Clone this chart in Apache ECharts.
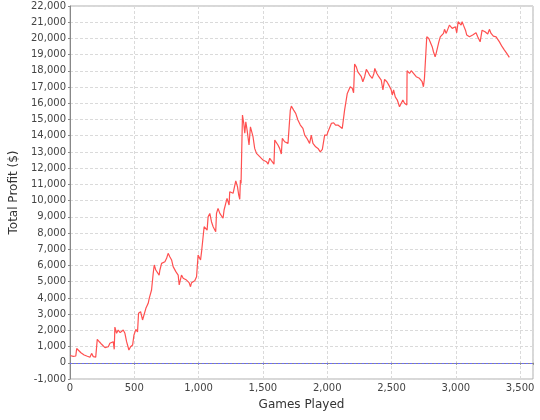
<!DOCTYPE html>
<html>
<head>
<meta charset="utf-8">
<script src="https://cdn.jsdelivr.net/npm/echarts@6/dist/echarts.min.js"></script>
<style>
  html, body { margin: 0; padding: 0; background: #fff; }
  #chart { width: 540px; height: 420px; }
</style>
</head>
<body>
<div id="chart"></div>
<script>
// games played (x) and running profit (y)
const games = [
  0, 25, 45, 52, 65, 85, 110, 135, 155, 168, 181, 200, 212, 230, 246, 272, 298, 310, 336, 344,
  349, 362, 375, 390, 414, 427, 440, 458, 471, 487, 497, 512, 525, 533, 549, 564, 575, 590, 608, 616,
  634, 647, 655, 667, 678, 693, 699, 712, 738, 751, 763, 776, 790, 802, 815, 823, 841, 849, 867, 880,
  906, 926, 937, 945, 970, 984, 990, 996, 1015, 1023, 1035, 1043, 1056, 1066, 1074, 1087, 1100, 1113, 1126, 1133,
  1139, 1151, 1165, 1178, 1190, 1198, 1211, 1221, 1237, 1242, 1255, 1268, 1281, 1289, 1302, 1312, 1320, 1325, 1330, 1338,
  1341, 1351, 1359, 1367, 1377, 1392, 1403, 1411, 1423, 1436, 1450, 1475, 1501, 1527, 1540, 1553, 1566, 1586, 1592, 1605,
  1617, 1630, 1643, 1651, 1669, 1682, 1695, 1708, 1713, 1721, 1739, 1755, 1772, 1791, 1811, 1825, 1842, 1863, 1876, 1889,
  1910, 1928, 1946, 1962, 1975, 1980, 1998, 2006, 2019, 2032, 2050, 2065, 2083, 2096, 2117, 2130, 2135, 2148, 2156, 2169,
  2179, 2195, 2205, 2213, 2226, 2238, 2252, 2265, 2277, 2291, 2304, 2316, 2329, 2350, 2363, 2370, 2386, 2401, 2420, 2433,
  2446, 2464, 2479, 2498, 2506, 2516, 2529, 2545, 2562, 2575, 2588, 2601, 2619, 2621, 2640, 2653, 2671, 2692, 2717, 2738,
  2748, 2756, 2769, 2774, 2790, 2800, 2816, 2826, 2839, 2847, 2860, 2868, 2879, 2894, 2904, 2912, 2925, 2938, 2950, 2964,
  2972, 2985, 2997, 3007, 3018, 3028, 3041, 3049, 3059, 3075, 3085, 3093, 3106, 3119, 3131, 3144, 3157, 3170, 3189, 3204,
  3214, 3227, 3248, 3261, 3274, 3292, 3313, 3326, 3339, 3360, 3378, 3396, 3416
];
const profit = [
  450, 400, 420, 880, 760, 620, 480, 400, 340, 580, 380, 350, 1450, 1280, 1140, 930, 990, 1200, 1300, 830,
  2200, 1820, 2020, 1860, 2020, 1820, 1300, 790, 990, 1100, 1700, 2060, 1900, 3050, 3150, 2640, 2530, 3360, 3670, 3970,
  4490, 5520, 6030, 5720, 5620, 5410, 5720, 6130, 6230, 6440, 6750, 6540, 6340, 5930, 6030, 5620, 5410, 4800, 5410, 5210,
  5100, 4940, 4690, 4940, 5060, 5310, 5300, 6640, 6340, 6850, 6790, 8390, 8490, 8180, 9010, 9210, 8700, 8390, 8290, 8080,
  9210, 9520, 9210, 9110, 8910, 9420, 9830, 10140, 9730, 10550, 10650, 10450, 10550, 11220, 10860, 10340, 10080, 11270, 11060, 11100,
  15280, 14760, 14150, 14860, 14350, 13430, 14550, 14660, 13940, 13220, 12910, 12710, 12500, 12400, 12250, 12610, 12460, 12250, 13730, 13630,
  13430, 13220, 12870, 13840, 13630, 13730, 13530, 13430, 15580, 15830, 15580, 15380, 14970, 14660, 14450, 14040, 13840, 13530, 14040, 13530,
  13320, 13220, 13010, 13160, 13220, 14040, 14040, 14250, 14350, 14760, 14800, 14660, 14660, 14550, 14450, 14350, 15580, 15690, 16610, 16510,
  17020, 16920, 16650, 18420, 18250, 17940, 17840, 17640, 17330, 17640, 18090, 17940, 17740, 17540, 17840, 18150, 17840, 17640, 17430, 16820,
  17470, 17330, 17120, 16820, 16510, 16820, 16400, 16200, 15790, 15890, 16200, 16000, 15890, 18010, 17840, 18010, 17840, 17640, 17540, 17330,
  17020, 17540, 17430, 20100, 20000, 19790, 19490, 19180, 18870, 19080, 19180, 19790, 20100, 20000, 20310, 20560, 20310, 20410, 20820, 20820,
  20620, 20680, 20720, 20350, 21030, 20930, 20820, 21030, 20820, 20510, 20210, 20310, 20100, 20000, 20210, 20100, 20350, 20100, 19790, 20510,
  20620, 20410, 20270, 20560, 20310, 20140, 20100, 20000, 19790, 19490, 19280, 19080, 18830
];

const chart = echarts.init(document.getElementById('chart'));

const fmt = v => v.toLocaleString('en-US');
const labelFont = { fontFamily: 'DejaVu Sans', fontSize: 10, color: '#444' };

const option = {
  backgroundColor: '#fff',
  animation: false,
  grid: {
    left: 70, right: 7, top: 6, bottom: 41,
    show: true,
    borderColor: '#b0b0b0',
    borderWidth: 1
  },
  xAxis: {
    type: 'value',
    min: 0,
    max: 3600,
    interval: 500,
    name: 'Games Played',
    nameLocation: 'middle',
    nameGap: 20,
    nameTextStyle: { fontFamily: 'DejaVu Sans', fontSize: 12, color: '#333' },
    axisLine: { lineStyle: { color: '#888' } },
    axisTick: { length: 2, lineStyle: { color: '#888' } },
    axisLabel: Object.assign({
      margin: 4,
      formatter: v => (v % 500 === 0 ? fmt(v) : '')
    }, labelFont),
    splitLine: { lineStyle: { color: '#dadada', type: [3, 2] } }
  },
  yAxis: {
    type: 'value',
    min: -1000,
    max: 22000,
    interval: 1000,
    name: 'Total Profit ($)',
    nameLocation: 'middle',
    nameGap: 41,
    nameTextStyle: { fontFamily: 'DejaVu Sans', fontSize: 12, color: '#333' },
    axisLine: { show: true, lineStyle: { color: '#888' } },
    axisTick: { show: true, length: 2, lineStyle: { color: '#888' } },
    axisLabel: Object.assign({ margin: 4, formatter: fmt }, labelFont),
    splitLine: { lineStyle: { color: '#dadada', type: [3, 2] } }
  },
  series: [{
    type: 'line',
    data: games.map((g, i) => [g, profit[i]]),
    showSymbol: false,
    lineStyle: { color: '#ff5050', width: 1.2 },
    itemStyle: { color: '#ff5050' },
    markLine: {
      silent: true,
      symbol: 'none',
      label: { show: false },
      lineStyle: { color: '#6b6bff', type: [2, 2], width: 1 },
      data: [{ yAxis: 0 }]
    }
  }]
};

chart.setOption(option);
</script>
</body>
</html>
